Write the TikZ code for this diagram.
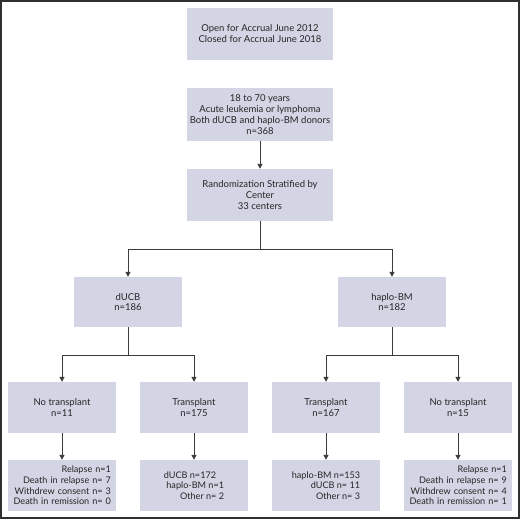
\documentclass[tikz,border=0pt]{standalone}
\usepackage{fontspec}
\setmainfont{Lato}
\usetikzlibrary{arrows.meta}
\definecolor{boxfill}{HTML}{D3D5E4}
\definecolor{linecol}{HTML}{3C3C3C}
\definecolor{framecol}{HTML}{303030}
\begin{document}
\begin{tikzpicture}[x=1pt,y=-1pt,
  box/.style={fill=boxfill, inner sep=0pt, align=center, minimum width=108pt, minimum height=51pt,
    font=\fontsize{9.5}{10.8}\selectfont, text=black!85},
  widebox/.style={box, minimum width=146pt, minimum height=52pt, font=\fontsize{9.5}{11}\selectfont},
  outbox/.style={box, font=\fontsize{9.1}{10.7}\selectfont},
  rightbox/.style={outbox, inner xsep=5pt, text width=98pt, align=right},
  conn/.style={draw=linecol, line width=1pt},
  arr/.style={conn, -{Triangle[width=5pt,length=5pt]}}]
\useasboundingbox (0,0) rectangle (520,519);
\draw[framecol, line width=1.6pt] (0.8,0.8) rectangle (519.2,518.2);

\node[widebox] (open) at (260,34) {Open for Accrual June 2012\\Closed for Accrual June 2018};
\node[widebox, minimum height=53pt] (elig) at (260,114.5) {18 to 70 years\\Acute leukemia or lymphoma\\Both dUCB and haplo-BM donors\\n=368};
\node[widebox] (rand) at (260,195) {Randomization Stratified by\\Center\\33 centers};

\node[box, minimum height=50pt] (ducb) at (128,302) {dUCB\\n=186};
\node[box, minimum height=50pt] (haplo) at (392,302) {haplo-BM\\n=182};

\node[box] (notxl) at (62,407.5) {No transplant\\n=11};
\node[box] (txl) at (194,407.5) {Transplant\\n=175};
\node[box] (txr) at (326,407.5) {Transplant\\n=167};
\node[box] (notxr) at (458,407.5) {No transplant\\n=15};

\node[rightbox] (outl) at (62,485.5) {Relapse n=1\\Death in relapse n= 7\\Withdrew consent n= 3\\Death in remission n= 0};
\node[outbox, align=right] (outtl) at (194,485.5) {dUCB n=172\hspace*{8pt}\\haplo-BM n=1\\Other n= 2};
\node[outbox, align=right] (outtr) at (326,485.5) {haplo-BM n=153\\dUCB n= 11\\Other n= 3};
\node[rightbox] (outr) at (458,485.5) {Relapse n=1\\Death in relapse n= 9\\Withdrew consent n= 4\\Death in remission n= 1};

\coordinate (sp1) at (260,249);
\coordinate (sp2) at (128,355);
\coordinate (sp3) at (392,355);

\draw[arr] (elig.south) -- (rand.north);
\draw[conn] (rand.south) -- (sp1);
\draw[arr] (sp1) -| (ducb.north);
\draw[arr] (sp1) -| (haplo.north);
\draw[conn] (ducb.south) -- (sp2);
\draw[arr] (sp2) -| (notxl.north);
\draw[arr] (sp2) -| (txl.north);
\draw[conn] (haplo.south) -- (sp3);
\draw[arr] (sp3) -| (txr.north);
\draw[arr] (sp3) -| (notxr.north);
\draw[arr] (notxl.south) -- (outl.north);
\draw[arr] (txl.south) -- (outtl.north);
\draw[arr] (txr.south) -- (outtr.north);
\draw[arr] (notxr.south) -- (outr.north);
\end{tikzpicture}
\end{document}
